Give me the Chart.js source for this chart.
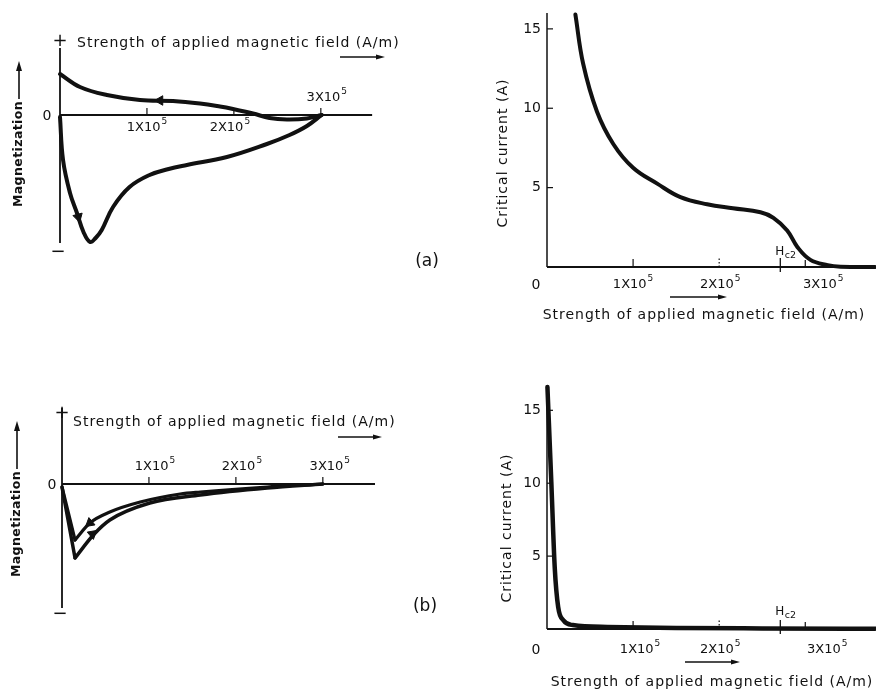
<!DOCTYPE html>
<html>
<head>
<meta charset="utf-8">
<title>Magnetization and critical current versus applied magnetic field</title>
<script src="https://cdn.jsdelivr.net/npm/chart.js@4.4.1/dist/chart.umd.min.js"></script>
<style>
html,body{margin:0;padding:0;background:#fff;}
#fig{position:relative;width:876px;height:689px;background:#fff;overflow:hidden;}
#fig canvas{position:absolute;left:0;top:0;}
</style>
</head>
<body>
<div id="fig">
<canvas id="aMag" width="876" height="689"></canvas>
<canvas id="aIc" width="876" height="689"></canvas>
<canvas id="bMag" width="876" height="689"></canvas>
<canvas id="bIc" width="876" height="689"></canvas>
</div>
<script>
// ---------------- DATA (field in units of 1x10^5 A/m) ----------------
// (a) magnetization (arbitrary units): decreasing-field branch
const aDecField = [0, 0.23, 0.54, 0.92, 1.30, 1.61, 1.84, 1.99, 2.22, 2.41, 2.61, 2.84, 3.01];
const aDecMag   = [4.1, 2.8, 2.0, 1.5, 1.4, 1.15, 0.85, 0.6, 0.15, -0.3, -0.45, -0.35, 0];
// (a) magnetization: increasing-field branch
const aIncField = [0, 0.035, 0.115, 0.195, 0.27, 0.345, 0.41, 0.48, 0.61, 0.80, 1.03, 1.25, 1.46, 1.92, 2.38, 2.64, 2.84, 3.01];
const aIncMag   = [-0.2, -4.5, -7.8, -9.8, -11.7, -12.7, -12.3, -11.5, -9.2, -7.2, -6.0, -5.4, -5.0, -4.2, -2.9, -2.0, -1.1, 0];
// (a) direction arrows on the branches
const aArrowField = [1.15, 0.21];
const aArrowMag   = [1.45, -10.2];
// (a) critical current (A)
const aIcField = [0.33, 0.42, 0.58, 0.77, 1.00, 1.28, 1.55, 1.86, 2.16, 2.48, 2.63, 2.79, 2.91, 3.06, 3.26, 3.41, 3.81];
const aIcAmp   = [15.9, 12.8, 9.8, 7.75, 6.25, 5.25, 4.4, 3.95, 3.7, 3.45, 3.1, 2.3, 1.25, 0.45, 0.12, 0.02, 0];

// (b) magnetization: decreasing-field branch (inner)
const bDecField = [0, 0.15, 0.32, 0.55, 0.90, 1.36, 1.59, 2.36, 3.0];
const bDecMag   = [-0.3, -5.6, -3.9, -2.8, -1.8, -1.0, -0.8, -0.3, 0];
// (b) magnetization: increasing-field branch (outer)
const bIncField = [0, 0.15, 0.36, 0.55, 1.01, 1.59, 2.36, 3.0];
const bIncMag   = [-0.3, -7.4, -5.1, -3.6, -1.9, -1.1, -0.4, 0];
const bArrowField = [0.32, 0.35];
const bArrowMag   = [-3.9, -5.0];
// (b) critical current (A)
const bIcField = [0.005, 0.05, 0.09, 0.13, 0.19, 0.30, 0.70, 1.5, 2.5, 3.81];
const bIcAmp   = [16.6, 10.1, 4.2, 1.5, 0.6, 0.27, 0.14, 0.07, 0.04, 0.02];

// tick values / labels
const fieldTicks   = [1, 2, 3];      // x 10^5 A/m
const fieldExp     = '5';
const currentTicks = [5, 10, 15];    // A
const hc2Field     = 2.71;
const TITLE_FIELD  = 'Strength of applied magnetic field (A/m)';
const TITLE_MAG    = 'Magnetization';
const TITLE_IC     = 'Critical current (A)';

// ---------------- STYLE / DRAWING HELPERS ----------------
const INK = '#111';
const FONT = '"DejaVu Sans", "Liberation Sans", sans-serif';

function pts(xs, ys) { return xs.map((x, i) => ({ x: x, y: ys[i] })); }
function curve(xs, ys, w, mode) {
  return {
    data: pts(xs, ys), showLine: true, borderColor: INK, borderWidth: w,
    pointRadius: 0, pointHoverRadius: 0,
    cubicInterpolationMode: mode === 'monotone' ? 'monotone' : 'default',
    tension: mode === 'spline' ? 0.4 : 0,
    borderCapStyle: 'round', borderJoinStyle: 'round', clip: false
  };
}
function arrowHeads(xs, ys, rot) {
  return {
    data: pts(xs, ys), showLine: false, pointStyle: 'triangle', pointRadius: 5.5,
    pointRotation: rot, pointBackgroundColor: INK, pointBorderColor: INK,
    backgroundColor: INK, borderColor: INK, pointBorderWidth: 1, clip: false
  };
}
function seg(ctx, x1, y1, x2, y2, w, dash) {
  ctx.save(); ctx.strokeStyle = INK; ctx.lineWidth = w;
  if (dash) ctx.setLineDash(dash);
  ctx.beginPath(); ctx.moveTo(x1, y1); ctx.lineTo(x2, y2); ctx.stroke(); ctx.restore();
}
function txt(ctx, s, x, y, size, align, opt) {
  opt = opt || {};
  ctx.save(); ctx.fillStyle = INK;
  ctx.font = (opt.bold ? 'bold ' : '') + size + 'px ' + FONT;
  ctx.textAlign = align || 'center'; ctx.textBaseline = 'middle';
  if (opt.ls) ctx.letterSpacing = opt.ls;
  ctx.fillText(s, x, y);
  const w = ctx.measureText(s).width;
  ctx.restore();
  return w;
}
function hArrow(ctx, x1, x2, y) {
  seg(ctx, x1, y, x2 - 7, y, 1.4);
  ctx.save(); ctx.fillStyle = INK; ctx.beginPath();
  ctx.moveTo(x2, y); ctx.lineTo(x2 - 9, y - 2.6); ctx.lineTo(x2 - 9, y + 2.6); ctx.closePath(); ctx.fill(); ctx.restore();
}
function sci(ctx, mant, cx, cy, size) {
  ctx.save(); ctx.fillStyle = INK; ctx.textBaseline = 'middle'; ctx.textAlign = 'left';
  const base = mant + 'X10';
  ctx.font = size + 'px ' + FONT;
  const w1 = ctx.measureText(base).width;
  const es = Math.round(size * 0.72);
  ctx.font = es + 'px ' + FONT;
  const w2 = ctx.measureText(fieldExp).width;
  const x0 = cx - (w1 + w2 + 1) / 2;
  ctx.font = size + 'px ' + FONT;
  ctx.fillText(base, x0, cy);
  ctx.font = es + 'px ' + FONT;
  ctx.fillText(fieldExp, x0 + w1 + 1, cy - size * 0.45);
  ctx.restore();
}
function vertLabel(ctx, s, x, yc, size, bold, ls, arrowLen) {
  ctx.save(); ctx.translate(x, yc); ctx.rotate(-Math.PI / 2);
  ctx.fillStyle = INK;
  ctx.font = (bold ? 'bold ' : '') + size + 'px ' + FONT;
  ctx.textAlign = 'center'; ctx.textBaseline = 'middle';
  if (ls) ctx.letterSpacing = ls;
  const w = ctx.measureText(s).width;
  ctx.fillText(s, 0, 0);
  if (arrowLen) {
    ctx.letterSpacing = '0px';
    ctx.strokeStyle = INK; ctx.lineWidth = 1.6;
    const s0 = w / 2 + 2, s1 = w / 2 + arrowLen;
    ctx.beginPath(); ctx.moveTo(s0, 0); ctx.lineTo(s1 - 6, 0); ctx.stroke();
    ctx.beginPath(); ctx.moveTo(s1, 0); ctx.lineTo(s1 - 10, -3); ctx.lineTo(s1 - 10, 3); ctx.closePath(); ctx.fill();
  }
  ctx.restore();
}

// Left panels: magnetization axes
function magDeco(P) {
  return {
    id: 'magDeco',
    beforeDatasetsDraw(chart) {
      const ctx = chart.ctx, ca = chart.chartArea, x = chart.scales.x, y = chart.scales.y;
      const x0 = x.getPixelForValue(0), y0 = y.getPixelForValue(0);
      seg(ctx, x0, y.getPixelForValue(P.yAxisTop), x0, y.getPixelForValue(P.yAxisBottom), 1.8);
      seg(ctx, x0, y0, x.getPixelForValue(P.xAxisEnd), y0, 1.8);
      fieldTicks.forEach((v, i) => {
        const px = x.getPixelForValue(v);
        seg(ctx, px, y0, px, y0 - 7, 1.2);
        sci(ctx, v, px + P.labelDx[i], P.labelAbove[i] ? y0 - 17 : y0 + 13, 13);
      });
      txt(ctx, '0', x0 - P.zeroDx, y0 + 1, 14);
      txt(ctx, '+', x0, ca.top + 1, 18);
      txt(ctx, '\u2212', x0 - 2, ca.bottom, 18);
      txt(ctx, TITLE_FIELD, x0 + P.titleDx, ca.top + P.titleDy, 14, 'left', { ls: '1px' });
      hArrow(ctx, x0 + P.arrow[0], x0 + P.arrow[1], ca.top + P.arrow[2]);
      vertLabel(ctx, TITLE_MAG, x0 - P.magDx, ca.top + P.magDy, 12.5, true, '0.4px', P.magArrow);
      txt(ctx, P.tag, x0 + P.tagDx, ca.bottom + P.tagDy, 17);
    }
  };
}

// Right panels: critical current axes
function icDeco(P) {
  return {
    id: 'icDeco',
    beforeDatasetsDraw(chart) {
      const ctx = chart.ctx, ca = chart.chartArea, x = chart.scales.x, y = chart.scales.y;
      const x0 = x.getPixelForValue(0), y0 = y.getPixelForValue(0);
      seg(ctx, x0, ca.top, x0, y0, 1.5);
      seg(ctx, x0, y0, ca.right, y0, 1.8);
      currentTicks.forEach(v => {
        const py = y.getPixelForValue(v);
        seg(ctx, x0, py, x0 + 6, py, 1.2);
        txt(ctx, String(v), x0 - 6, py, 14, 'right');
      });
      fieldTicks.forEach((v, i) => {
        const px = x.getPixelForValue(v);
        if (i === 1) seg(ctx, px, y0, px, y0 - 9, 1.2, [1.5, 2]);
        else seg(ctx, px, y0, px, y0 - (i === 0 ? 8 : 7), 1.2);
        sci(ctx, v, px + P.labelDx[i], y0 + P.labelDy, 13);
      });
      const ph = x.getPixelForValue(hc2Field);
      seg(ctx, ph, y0 + 5, ph, y0 - 9, 1.3);
      const wH = txt(ctx, 'H', ph - 5, y0 - P.hDy, 12, 'left');
      txt(ctx, 'c2', ph - 5 + wH + 0.5, y0 - P.hDy + 4, 9.5, 'left');
      txt(ctx, '0', x0 - 11, y0 + P.labelDy, 14);
      txt(ctx, TITLE_FIELD, x0 + P.titleDx, y0 + P.titleDy, 14, 'center', { ls: '1px' });
      hArrow(ctx, x0 + P.arrow[0], x0 + P.arrow[1], y0 + P.arrow[2]);
      vertLabel(ctx, TITLE_IC, x0 - P.yTitleDx, ca.top + P.yTitleDy, 14, false, '1px', 0);
    }
  };
}

function makeChart(id, pad, xr, yr, datasets, deco) {
  return new Chart(document.getElementById(id), {
    type: 'scatter',
    data: { datasets: datasets },
    options: {
      responsive: false, animation: false, devicePixelRatio: 1, events: [],
      layout: { padding: pad },
      plugins: { legend: { display: false }, tooltip: { enabled: false }, title: { display: false } },
      scales: {
        x: { type: 'linear', display: false, min: xr[0], max: xr[1] },
        y: { type: 'linear', display: false, min: yr[0], max: yr[1] }
      }
    },
    plugins: [deco]
  });
}

// (a) magnetization
makeChart('aMag', { left: 60, top: 40, right: 503, bottom: 437 }, [0, 3.6], [-13.7, 7.5], [
  curve(aDecField, aDecMag, 4, 'spline'),
  curve(aIncField, aIncMag, 4, 'spline'),
  arrowHeads(aArrowField, aArrowMag, [270, 165])
], magDeco({
  yAxisTop: 6.7, yAxisBottom: -12.8, xAxisEnd: 3.59,
  labelAbove: [false, false, true], labelDx: [0, -4, 6],
  zeroDx: 13, titleDx: 17, titleDy: 3, arrow: [280, 325, 17],
  magDx: 41, magDy: 114, magArrow: 40, tag: '(a)', tagDx: 367, tagDy: 10
}));

// (a) critical current
makeChart('aIc', { left: 547, top: 13, right: 1, bottom: 422 }, [0, 3.81], [0, 16], [
  curve(aIcField, aIcAmp, 4, 'spline')
], icDeco({
  labelDx: [0, 1, 18], labelDy: 18, hDy: 15,
  titleDx: 157, titleDy: 48, arrow: [123, 180, 30],
  yTitleDx: 44, yTitleDy: 140
}));

// (b) magnetization
makeChart('bMag', { left: 62, top: 412, right: 501, bottom: 75 }, [0, 3.6], [-13.0, 7.2], [
  curve(bIncField.slice(0, 2), bIncMag.slice(0, 2), 3.5, 'straight'),
  curve(bIncField.slice(1), bIncMag.slice(1), 3.5, 'monotone'),
  curve(bDecField.slice(0, 2), bDecMag.slice(0, 2), 3.2, 'straight'),
  curve(bDecField.slice(1), bDecMag.slice(1), 3.2, 'monotone'),
  arrowHeads(bArrowField, bArrowMag, [230, 50])
], magDeco({
  yAxisTop: 7.6, yAxisBottom: -12.4, xAxisEnd: 3.6,
  labelAbove: [true, true, true], labelDx: [6, 6, 7],
  zeroDx: 10, titleDx: 11, titleDy: 10, arrow: [276, 320, 25],
  magDx: 45, magDy: 112, magArrow: 50, tag: '(b)', tagDx: 363, tagDy: -7
}));

// (b) critical current
makeChart('bIc', { left: 547, top: 387, right: 1, bottom: 60 }, [0, 3.81], [0, 16.6], [
  curve(bIcField, bIcAmp, 4.5, 'monotone')
], icDeco({
  labelDx: [7, 1, 22], labelDy: 21, hDy: 17,
  titleDx: 165, titleDy: 53, arrow: [138, 193, 33],
  yTitleDx: 40, yTitleDy: 141
}));
</script>
</body>
</html>
